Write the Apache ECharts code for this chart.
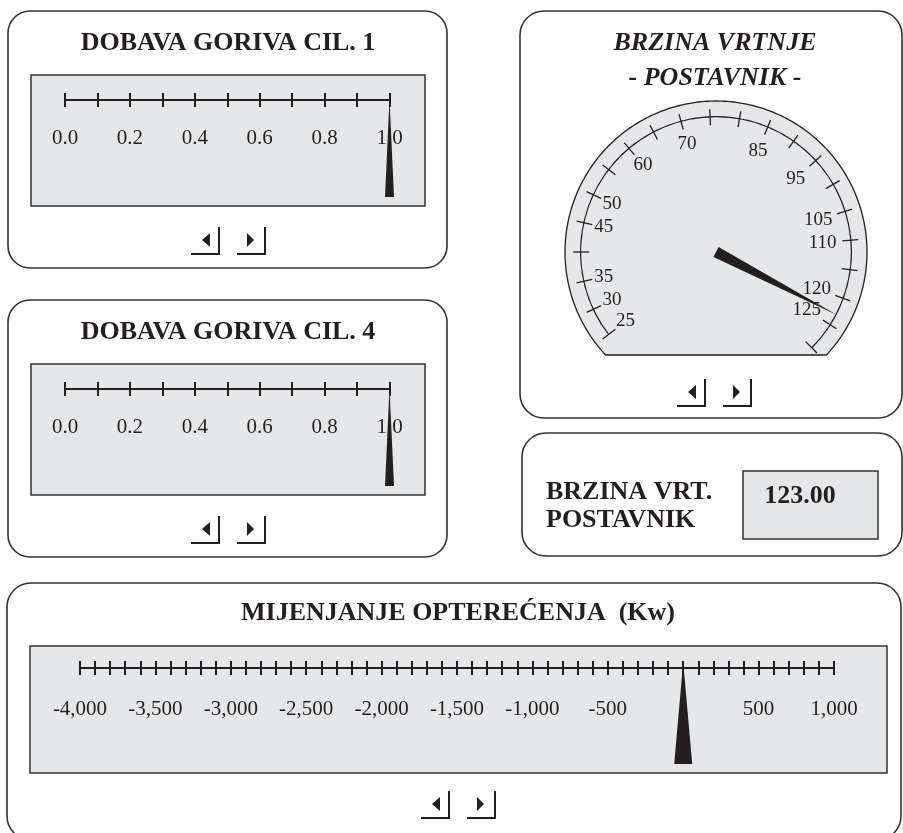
<!DOCTYPE html>
<html><head><meta charset="utf-8">
<script src="https://cdn.jsdelivr.net/npm/echarts@6/dist/echarts.min.js"></script>
<style>html,body{margin:0;padding:0;background:#fff}#c{width:903px;height:833px}</style>
</head><body><div id="c"></div>
<script>
// ---------------- data ----------------
const fuelCyl1Title = 'DOBAVA GORIVA CIL. 1';
const fuelCyl4Title = 'DOBAVA GORIVA CIL. 4';
const fuelCyl1Value = [1.0];
const fuelCyl4Value = [1.0];
const fuelTickLabels = ['0.0', '0.2', '0.4', '0.6', '0.8', '1.0'];
const speedTitle = ['BRZINA VRTNJE', '- POSTAVNIK -'];
const speedValue = [123];
const speedShownLabels = [25, 30, 35, 45, 50, 60, 70, 85, 95, 105, 110, 120, 125];
const speedReadoutTitle = ['BRZINA VRT.', 'POSTAVNIK'];
const speedReadout = ['123.00'];
const loadTitle = 'MIJENJANJE OPTEREĆENJA  (Kw)';
const loadValue = [0];
const loadTickLabels = ['-4,000', '-3,500', '-3,000', '-2,500', '-2,000', '-1,500', '-1,000', '-500', '', '500', '1,000'];

// ---------------- styles ----------------
const INK = '#231f20';
const GRAY = '#e6e7e8';
const SERIF = '"Liberation Serif", "Times New Roman", serif';
const BOLD = 'bold 26px ' + SERIF;

const chart = echarts.init(document.getElementById('c'), null, {renderer: 'canvas', width: 903, height: 833});

function panel(x, y, w, h, r) {
  return {type: 'rect', z: 0, shape: {x, y, width: w, height: h, r}, style: {fill: '#fff', stroke: '#333', lineWidth: 1.6}};
}
function box(x, y, w, h) {
  return {type: 'rect', z: 1, shape: {x, y, width: w, height: h}, style: {fill: GRAY, stroke: '#333', lineWidth: 1.5}};
}
function label(t, x, y, font, align) {
  return {type: 'text', z: 3, x, y, style: {text: t, fill: INK, font, align: align || 'center', verticalAlign: 'middle'}};
}
function button(x, y, dir) {
  const pts = dir < 0 ? [[x + 11, y + 13], [x + 19, y + 6], [x + 19, y + 20]] : [[x + 10, y + 6], [x + 10, y + 20], [x + 17, y + 13]];
  return [
    {type: 'polyline', z: 3, shape: {points: [[x, y + 27], [x + 28, y + 27], [x + 28, y]]}, style: {stroke: INK, lineWidth: 2, fill: 'none'}},
    {type: 'polygon', z: 3, shape: {points: pts}, style: {fill: INK}}
  ];
}
function buttonPair(x, y) { return button(x, y, -1).concat(button(x + 46, y, 1)); }

// ---------------- gauge geometry ----------------
const G = {cx: 716, cy: 252, r: 136, start: 217.5, end: -45, min: 25, max: 130, split: 21,
  lineW: 1.2, splitLen: 16, splitDist: -8, labelDist: -46, fontSize: 19};
const faceR = 151, faceChord = 355;
const dialPts = [];
{
  const dy = faceChord - G.cy;
  const a0 = Math.PI - Math.asin(dy / faceR);
  const a1 = 2 * Math.PI + Math.asin(dy / faceR);
  const n = 240;
  for (let i = 0; i <= n; i++) {
    const a = a0 + (a1 - a0) * i / n;
    dialPts.push([G.cx + faceR * Math.cos(a), G.cy + faceR * Math.sin(a)]);
  }
}
// label placement: centre each label on the tick's radial direction
const mctx = document.createElement('canvas').getContext('2d');
mctx.font = G.fontSize + 'px "Liberation Serif"';
const anchorR = G.r - G.splitLen - (G.labelDist + G.splitDist);
const gaugeRich = {};
speedShownLabels.forEach(v => {
  const th = (G.start - (v - G.min) / (G.max - G.min) * (G.start - G.end)) * Math.PI / 180;
  const ux = Math.cos(th), uy = -Math.sin(th);
  const rc = 111 - 4 * ux;
  const dx = (rc - anchorR) * ux, dy = (rc - anchorR) * uy;
  const w = mctx.measureText(String(v)).width, h = G.fontSize;
  let pl = 0, pr = 0, pt = 0, pb = 0;
  if (ux < -0.4) pl = Math.max(0, dx - w / 2);
  else if (ux > 0.4) pr = Math.max(0, -dx - w / 2);
  else if (dx >= 0) pl = 2 * dx; else pr = -2 * dx;
  if (uy < -0.8) pt = Math.max(0, dy - h / 2);
  else if (uy > 0.8) pb = Math.max(0, -dy - h / 2);
  else if (dy >= 0) pt = 2 * dy; else pb = -2 * dy;
  gaugeRich['v' + v] = {fontSize: G.fontSize, fontFamily: SERIF, color: INK, padding: [pt, pr, pb, pl]};
});

const graphics = [
  panel(8, 11, 439, 257, 22),
  panel(8, 300, 439, 257, 22),
  panel(520, 11, 382, 407, 24),
  panel(522, 433, 380, 123, 24),
  panel(7, 583, 894, 257, 24),
  box(31, 75, 394, 131),
  box(31, 364, 394, 131),
  box(30, 646, 857, 127),
  box(743, 471, 135, 68),
  {type: 'polygon', z: 1, shape: {points: dialPts}, style: {fill: GRAY, stroke: INK, lineWidth: 1.3}},
  label(fuelCyl1Title, 228, 43, BOLD),
  label(fuelCyl4Title, 228, 332, BOLD),
  label(speedTitle[0], 715, 43, 'italic ' + BOLD),
  label(speedTitle[1], 715, 78, 'italic ' + BOLD),
  label(speedReadoutTitle[0], 546, 492, BOLD, 'left'),
  label(speedReadoutTitle[1], 546, 520, BOLD, 'left'),
  label(speedReadout[0], 800, 496, BOLD),
  label(loadTitle, 458, 613, BOLD)
].concat(buttonPair(191, 227), buttonPair(191, 516), buttonPair(677, 379), buttonPair(421, 791));

// ---------------- linear scales (one grid per axis role, overlapping) ----------------
function scaleGrids(left, width, top, height) {
  return [0, 1, 2].map(() => ({left, width, top, height, containLabel: false, outerBoundsMode: 'none'}));
}
function scaleAxes(g0, min, max, step, labelStep, fmt, margin) {
  const common = {type: 'value', min, max, position: 'top', splitLine: {show: false}, z: 10};
  return [
    Object.assign({}, common, {gridIndex: g0, interval: step, axisLine: {show: true, onZero: false, lineStyle: {color: INK, width: 2}},
      axisTick: {show: true, inside: false, length: 7, lineStyle: {color: INK, width: 2}}, axisLabel: {show: false}}),
    Object.assign({}, common, {gridIndex: g0 + 1, interval: step, axisLine: {show: false, onZero: false},
      axisTick: {show: true, inside: true, length: 7, lineStyle: {color: INK, width: 2}}, axisLabel: {show: false}}),
    Object.assign({}, common, {gridIndex: g0 + 2, interval: labelStep, axisLine: {show: false, onZero: false}, axisTick: {show: false},
      axisLabel: {show: true, inside: true, margin, formatter: fmt, color: INK, fontSize: 21, fontFamily: SERIF}})
  ];
}
const fuelFmt = v => fuelTickLabels[Math.round(v / 0.2)];
const loadFmt = v => loadTickLabels[Math.round((v + 4000) / 500)];

function needle(g0, data, halfWidth, overshoot) {
  return {
    type: 'custom', xAxisIndex: g0, yAxisIndex: g0, z: 20, clip: false,
    data: data.map(v => [v, 0]),
    encode: {x: 0, y: 1},
    renderItem(params, api) {
      const v = api.value(0);
      const tip = api.coord([v, 1]);
      const base = api.coord([v, 0]);
      return {type: 'polygon', shape: {points: [[tip[0], tip[1] - overshoot], [base[0] + halfWidth, base[1]], [base[0] - halfWidth, base[1]]]},
        style: {fill: INK}};
    }
  };
}

const option = {
  animation: false,
  backgroundColor: '#ffffff',
  graphic: {elements: graphics},
  grid: [].concat(
    scaleGrids(65, 324.5, 100, 97),
    scaleGrids(65, 324.5, 389, 97),
    scaleGrids(80, 754, 668, 96)
  ),
  xAxis: [].concat(
    scaleAxes(0, 0, 1, 0.1, 0.2, fuelFmt, 28),
    scaleAxes(3, 0, 1, 0.1, 0.2, fuelFmt, 28),
    scaleAxes(6, -4000, 1000, 100, 500, loadFmt, 31)
  ),
  yAxis: [0, 1, 2, 3, 4, 5, 6, 7, 8].map(gi => ({type: 'value', gridIndex: gi, min: 0, max: 1, show: false})),
  series: [
    needle(0, fuelCyl1Value, 4.5, 1),
    needle(3, fuelCyl4Value, 4.5, 1),
    needle(6, loadValue, 9, 6),
    {
      type: 'gauge', z: 10,
      center: [G.cx, G.cy], radius: G.r,
      startAngle: G.start, endAngle: G.end,
      min: G.min, max: G.max, splitNumber: G.split,
      axisLine: {show: true, lineStyle: {width: G.lineW, color: [[1, INK]]}},
      splitLine: {show: true, distance: G.splitDist, length: G.splitLen, lineStyle: {color: INK, width: 1.3}},
      axisTick: {show: false},
      axisLabel: {show: true, distance: G.labelDist, color: INK, fontSize: G.fontSize, fontFamily: SERIF, rich: gaugeRich,
        formatter: v => {
          const k = Math.round(v);
          return speedShownLabels.indexOf(k) >= 0 ? '{v' + k + '|' + k + '}' : '';
        }},
      pointer: {show: true, icon: 'triangle', length: 137, width: 11, itemStyle: {color: INK}},
      anchor: {show: false}, progress: {show: false},
      title: {show: false}, detail: {show: false},
      data: speedValue.map(v => ({value: v}))
    }
  ]
};
chart.setOption(option);
</script>
</body></html>
